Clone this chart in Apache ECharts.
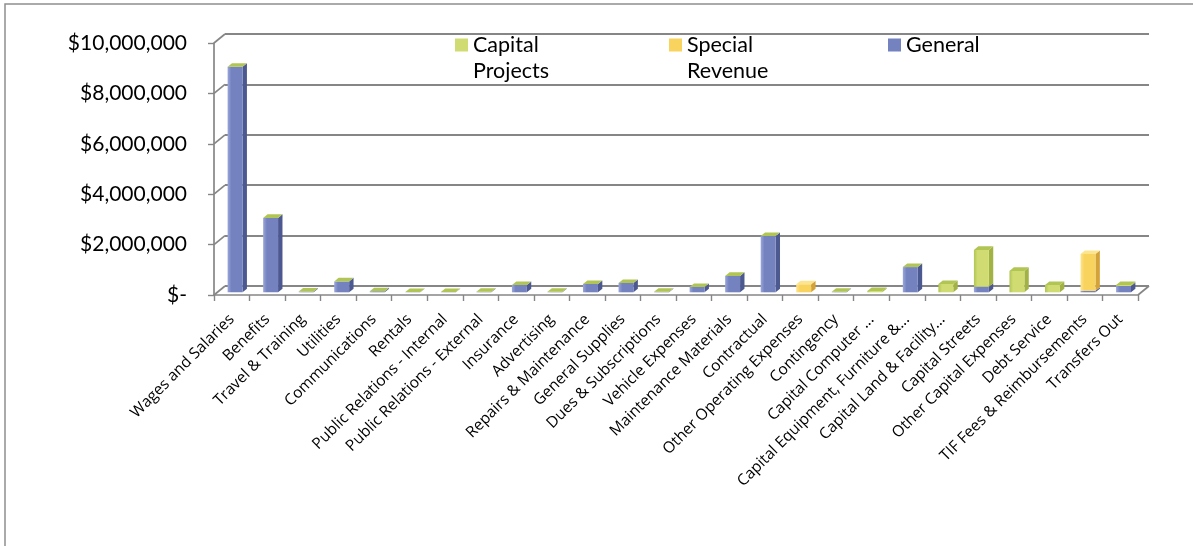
<!DOCTYPE html>
<html>
<head>
<meta charset="utf-8">
<script src="https://cdn.jsdelivr.net/npm/echarts@6/dist/echarts.min.js"></script>
<style>
  html, body { margin: 0; padding: 0; background: #fff; }
  #chart { width: 1193px; height: 546px; }
</style>
</head>
<body>
<div id="chart"></div>
<script>
// Expense categories along the x axis
const categories = [
  'Wages and Salaries', 'Benefits', 'Travel & Training', 'Utilities', 'Communications',
  'Rentals', 'Public Relations - Internal', 'Public Relations - External', 'Insurance',
  'Advertising', 'Repairs & Maintenance', 'General Supplies', 'Dues & Subscriptions',
  'Vehicle Expenses', 'Maintenance Materials', 'Contractual', 'Other Operating Expenses',
  'Contingency', 'Capital Computer ...', 'Capital Equipment, Furniture &...',
  'Capital Land & Facility...', 'Capital Streets', 'Other Capital Expenses', 'Debt Service',
  'TIF Fees & Reimbursements', 'Transfers Out'
];

// Fund amounts per category (null = fund not budgeted for that line)
const general = [
  8950000, 2950000, 30000, 430000, 40000, 10000, 10000, 20000, 290000, 20000,
  330000, 370000, 20000, 210000, 650000, 2230000, null, 20000, null, 1000000,
  null, 220000, null, null, 60000, 250000
];
const specialRevenue = [
  null, null, null, null, null, null, null, null, null, null,
  null, null, null, null, null, null, 320000, null, null, null,
  null, null, null, null, 1460000, null
];
const capitalProjects = [
  0, 0, 0, 0, 0, 0, 0, 0, 0, 0,
  0, 0, 0, 0, 0, 0, null, 0, 50000, 0,
  330000, 1460000, 850000, 290000, null, 40000
];

// Value axis ticks and their labels
const yTickValues = [0, 2000000, 4000000, 6000000, 8000000, 10000000];
const yTickLabels = ['$-', '$2,000,000', '$4,000,000', '$6,000,000', '$8,000,000', '$10,000,000'];

// Depth of the floor/back wall and placement of the columns inside it
const DX = 11, DY = -9;
const F1 = 0.3, F2 = 0.7;
const BAR_RATIO = 0.42;
const LINE = '#868686';

const fundSeries = [
  { name: 'General', data: general, face: '#7482c0', side: '#4c5890', top: '#9ba7da' },
  { name: 'Special Revenue', data: specialRevenue, face: '#f8d35e', side: '#d3a33a', top: '#fde58f' },
  { name: 'Capital Projects', data: capitalProjects, face: '#d0dc72', side: '#a3b245', top: '#b0c553' }
];

// Stack the funds: General at the bottom, Special Revenue, then Capital Projects
const stackedItems = fundSeries.map(() => []);
categories.forEach((c, i) => {
  let base = 0;
  let topIdx = -1;
  fundSeries.forEach((s, k) => { if (s.data[i] != null) topIdx = k; });
  fundSeries.forEach((s, k) => {
    const v = s.data[i];
    if (v == null) return;
    stackedItems[k].push([i, base, v, k === topIdx ? 1 : 0]);
    base += v;
  });
});

function columnRenderer(style) {
  return function (params, api) {
    const i = api.value(0);
    const base = api.value(1);
    const val = api.value(2);
    const isTop = api.value(3);
    const p0 = api.coord([i, base]);
    const p1 = api.coord([i, base + val]);
    const band = api.size([1, 0])[0];
    const w = band * BAR_RATIO;
    const fx = p0[0] - w / 2 + DX * F1;
    const fy0 = p0[1] + DY * F1;
    const fy1 = p1[1] + DY * F1;
    const ddx = DX * (F2 - F1), ddy = DY * (F2 - F1);
    const children = [
      {
        type: 'polygon',
        shape: { points: [[fx + w, fy1], [fx + w + ddx, fy1 + ddy], [fx + w + ddx, fy0 + ddy], [fx + w, fy0]] },
        style: { fill: style.side }
      },
      {
        type: 'rect',
        shape: { x: fx, y: fy1, width: w, height: fy0 - fy1 },
        style: {
          fill: new echarts.graphic.LinearGradient(0, 0, 1, 0, [
            { offset: 0, color: style.top },
            { offset: 0.25, color: style.face },
            { offset: 1, color: style.face }
          ])
        }
      }
    ];
    if (isTop) {
      children.push({
        type: 'polygon',
        shape: { points: [[fx, fy1], [fx + ddx, fy1 + ddy], [fx + w + ddx, fy1 + ddy], [fx + w, fy1]] },
        style: { fill: fundSeries[2].data[i] != null ? fundSeries[2].top : style.top }
      });
    }
    return { type: 'group', children: children };
  };
}

const series = fundSeries.map((s, k) => ({
  name: s.name,
  type: 'custom',
  xAxisIndex: 0,
  yAxisIndex: 0,
  itemStyle: { color: s.face },
  renderItem: columnRenderer(s),
  encode: { x: 0, y: 2 },
  data: stackedItems[k],
  z: 5
}));

// Left wall: slanted connectors from the front axis to the back wall gridlines
series.push({
  type: 'custom',
  xAxisIndex: 0,
  yAxisIndex: 0,
  silent: true,
  renderItem: function (params, api) {
    const p = api.coord([0, api.value(1)]);
    const band = api.size([1, 0])[0];
    const x = p[0] - band / 2;
    return {
      type: 'line',
      shape: { x1: x, y1: p[1], x2: x + DX, y2: p[1] + DY },
      style: { stroke: LINE, lineWidth: 1.7 }
    };
  },
  data: yTickValues.map(v => [0, v]),
  z: 2
});

// Right edge of the floor
series.push({
  type: 'custom',
  xAxisIndex: 0,
  yAxisIndex: 0,
  silent: true,
  renderItem: function (params, api) {
    const p = api.coord([api.value(0), 0]);
    const band = api.size([1, 0])[0];
    const x = p[0] + band / 2;
    return {
      type: 'line',
      shape: { x1: x, y1: p[1], x2: x + DX, y2: p[1] + DY },
      style: { stroke: LINE, lineWidth: 1.7 }
    };
  },
  data: [[categories.length - 1, 0]],
  z: 2
});

const legendText = { fontFamily: 'Lato', fontSize: 21.5, color: '#000', lineHeight: 26 };

const option = {
  animation: false,
  backgroundColor: '#fff',
  graphic: [{
    type: 'rect',
    shape: { x: 5, y: 4, width: 1400, height: 800 },
    style: { fill: 'none', stroke: '#8f8f8f', lineWidth: 1.5 },
    silent: true
  }],
  legend: [
    {
      data: ['Capital Projects'], left: 455, top: 6, padding: 0,
      icon: 'rect', itemWidth: 13, itemHeight: 13, itemGap: 0,
      // blank first line keeps the first word level with the swatch
      formatter: n => ' \n' + n.replace(' ', '\n'),
      textStyle: legendText
    },
    {
      data: ['Special Revenue'], left: 669, top: 6, padding: 0,
      icon: 'rect', itemWidth: 13, itemHeight: 13, itemGap: 0,
      formatter: n => ' \n' + n.replace(' ', '\n'),
      textStyle: legendText
    },
    {
      data: ['General'], left: 888, top: 32, padding: 0,
      icon: 'rect', itemWidth: 13, itemHeight: 13, itemGap: 0,
      textStyle: legendText
    }
  ],
  grid: [
    { left: 214, top: 43, width: 924, height: 252 },
    { left: 214 + DX, top: 43 + DY, width: 924, height: 252 }
  ],
  xAxis: [
    {
      type: 'category', gridIndex: 0, data: categories,
      axisLine: { show: true, lineStyle: { color: LINE, width: 1.7 } },
      axisTick: { show: true, length: 6, lineStyle: { color: LINE, width: 1.4 } },
      axisLabel: {
        interval: 0, rotate: 45, margin: 22,
        fontFamily: 'Open Sans', fontSize: 15.5, color: '#000'
      },
      splitLine: { show: false }
    },
    {
      type: 'category', gridIndex: 1, data: categories, show: false
    }
  ],
  yAxis: [
    {
      type: 'value', gridIndex: 0, min: 0, max: 10000000, interval: 2000000,
      axisLine: { show: true, lineStyle: { color: LINE, width: 1.7 } },
      axisTick: { show: true, length: 6, lineStyle: { color: LINE, width: 1.4 } },
      axisLabel: {
        margin: 27, fontFamily: 'Lato', fontSize: 21, color: '#000',
        formatter: v => yTickLabels[yTickValues.indexOf(v)]
      },
      splitLine: { show: false }
    },
    {
      type: 'value', gridIndex: 1, min: 0, max: 10000000, interval: 2000000,
      axisLine: { show: false }, axisTick: { show: false }, axisLabel: { show: false },
      splitLine: { show: true, lineStyle: { color: LINE, width: 1.9 } }
    }
  ],
  series: series
};

const chart = echarts.init(document.getElementById('chart'), null, { renderer: 'canvas' });
chart.setOption(option);
</script>
</body>
</html>
